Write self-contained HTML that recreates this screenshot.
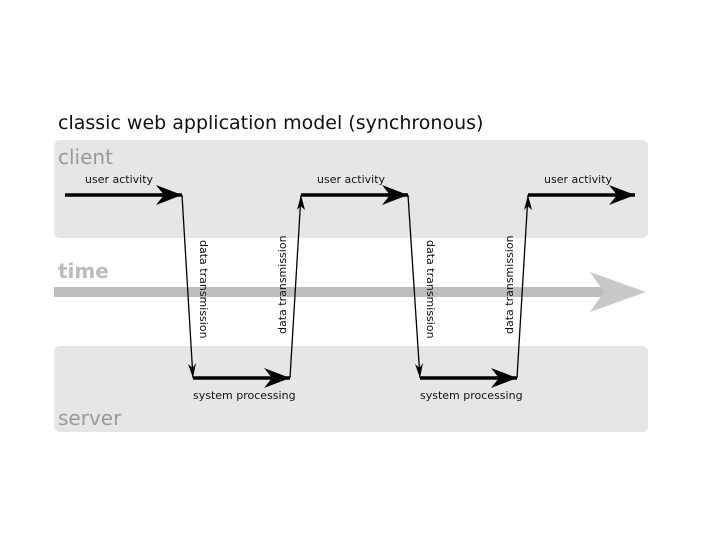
<!DOCTYPE html>
<html><head><style>body{margin:0;background:#fff}</style></head><body>
<svg width="720" height="540" xmlns="http://www.w3.org/2000/svg" font-family="DejaVu Sans, Liberation Sans, sans-serif">
<text x="58" y="129" font-size="19" fill="#111">classic web application model (synchronous)</text>
<rect x="54" y="140" width="594" height="98" rx="6" fill="#e6e6e6"/>
<rect x="54" y="346" width="594" height="86" rx="6" fill="#e6e6e6"/>
<text x="58" y="164" font-size="20" fill="#9a9a9a">client</text>
<text x="58" y="425" font-size="20" fill="#9a9a9a">server</text>
<text x="58" y="278" font-size="20" font-weight="bold" fill="#bdbdbd">time</text>
<rect x="54" y="287" width="560" height="10" fill="#bdbdbd"/>
<path d="M590,272 L646,292 L590,312 L604,292 Z" fill="#c8c8c8"/>
<g stroke="#000" fill="none">
<g stroke-width="3.5">
<line x1="65" y1="195" x2="182" y2="195"/>
<line x1="301" y1="195" x2="408" y2="195"/>
<line x1="528" y1="195" x2="635" y2="195"/>
<line x1="193" y1="378" x2="290" y2="378"/>
<line x1="420" y1="378" x2="517" y2="378"/>
</g>
<g stroke-width="1.3">
<line x1="182" y1="195" x2="193" y2="378"/>
<line x1="290" y1="378" x2="301" y2="195"/>
<line x1="408" y1="195" x2="420" y2="378"/>
<line x1="517" y1="378" x2="528" y2="195"/>
</g>
</g>
<g fill="#000">
<path d="M182,195 L156,185 L164,195 L156,205 Z"/>
<path d="M408,195 L382,185 L390,195 L382,205 Z"/>
<path d="M635,195 L609,185 L617,195 L609,205 Z"/>
<path d="M290,378 L264,368 L272,378 L264,388 Z"/>
<path d="M517,378 L491,368 L499,378 L491,388 Z"/>
<path d="M193,378 L188,364 L192.5,368 L196,363 Z"/>
<path d="M420,378 L415,364 L419.5,368 L423,363 Z"/>
<path d="M301,195 L297,210 L300.5,206 L305,210 Z"/>
<path d="M528,195 L524,210 L527.5,206 L532,210 Z"/>
</g>
<g font-size="11" fill="#111">
<text x="85" y="183">user activity</text>
<text x="317" y="183">user activity</text>
<text x="544" y="183">user activity</text>
<text x="193" y="399">system processing</text>
<text x="420" y="399">system processing</text>
<text transform="translate(200,240) rotate(90)">data transmission</text>
<text transform="translate(427,240) rotate(90)">data transmission</text>
<text transform="translate(286,334) rotate(-90)">data transmission</text>
<text transform="translate(513,334) rotate(-90)">data transmission</text>
</g>
</svg>
</body></html>
